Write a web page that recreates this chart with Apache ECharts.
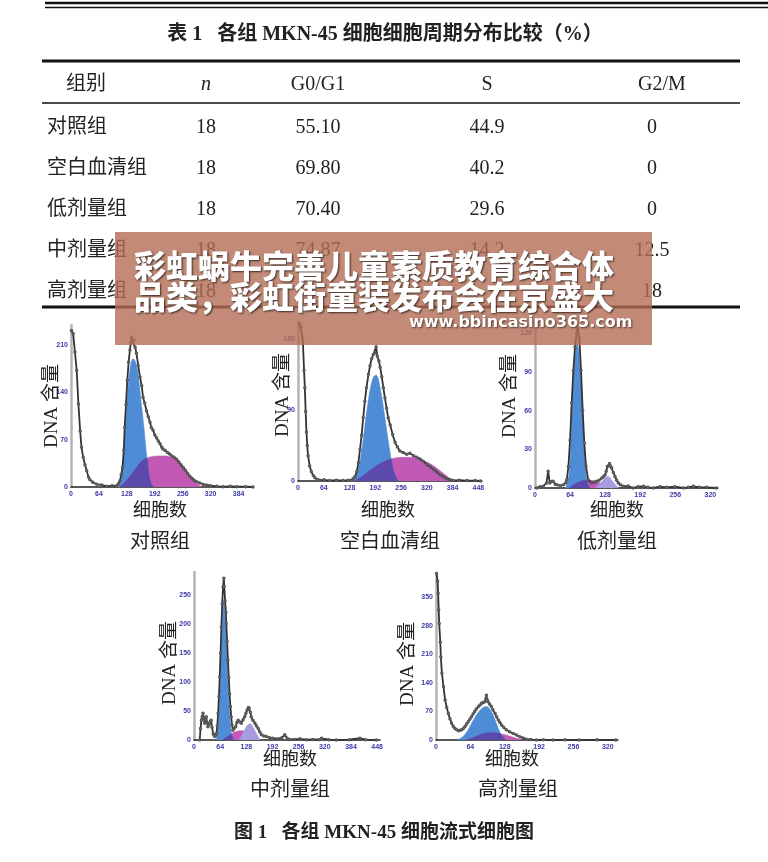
<!DOCTYPE html>
<html>
<head>
<meta charset="utf-8">
<script src="https://cdn.jsdelivr.net/npm/echarts/dist/echarts.min.js"></script>
<style>
  html, body { margin: 0; padding: 0; background: #fff; }
  #main { width: 768px; height: 862px; }
</style>
</head>
<body>
<div id="main"></div>
<script>
// 表1 数据
const headers = ['组别', 'n', 'G0/G1', 'S', 'G2/M'];
const groups = ['对照组', '空白血清组', '低剂量组', '中剂量组', '高剂量组'];
const nVals = ['18', '18', '18', '18', '18'];
const g0g1Vals = ['55.10', '69.80', '70.40', '74.87', ''];
const sVals = ['44.9', '40.2', '29.6', '14.2', ''];
const g2mVals = ['0', '0', '0', '12.5', '18'];

// 图1 各组直方图 (x: 通道, y: 计数)
const ctrlTrace = [[1,232],[5,227],[9,200],[13,173],[17,123],[21,83],[24,59],[28,44],[32,33],[36,24],[40,15],[43,11],[50,7],[59,4],[70,3],[82,1],[94,2],[104,1.5],[108,4],[112,9],[115,18],[118,29],[121,55],[123,88],[126,122],[129,158],[132,185],[135,203],[137,214],[139,222],[141,216],[144,217],[147,207],[150,198],[154,180],[158,163],[162,150],[165,133],[169,124],[173,113],[177,104],[181,96],[184,88],[188,84],[192,77],[196,73],[200,68],[204,64],[208,59],[211,56],[216,54],[221,51],[226,49],[231,46],[236,44],[242,41],[247,37],[252,33],[257,29],[262,25],[267,20],[272,16],[277,13],[282,10],[287,8],[295,6],[302,4],[310,3],[320,2],[335,1],[348,0.5],[365,1],[380,0.5],[400,0.5],[417,0]];
const ctrlG1 = [[105,0],[112,8],[118,30],[124,80],[130,140],[136,178],[142,190],[148,185],[154,165],[160,130],[166,95],[172,55],[178,20],[184,4],[190,0]];
const ctrlS = [[112,0],[125,8],[140,20],[155,33],[170,42],[185,45],[200,46],[215,46],[230,44],[245,38],[260,28],[275,16],[288,6],[298,0]];
const ctrlOver = [[112,0],[125,8],[140,20],[155,33],[170,42],[174,42],[178,20],[184,4],[190,0]];

const blankTrace = [[3,200],[7,195],[12,178],[15,140],[17,118],[19,88],[21,62],[23,45],[25,32],[29,19],[33,12],[38,7],[42,4],[48,2],[54,1],[65,1.5],[79,0.5],[95,1],[112,0.5],[125,1],[133,1],[137,3],[141,5],[146,12],[150,23],[154,40],[158,58],[162,80],[166,101],[170,118],[175,135],[179,146],[183,155],[187,160],[191,162],[194,170],[197,158],[201,152],[204,144],[208,132],[212,118],[216,105],[220,92],[224,80],[229,71],[235,59],[241,49],[247,43],[253,38],[261,36],[270,34],[278,35],[287,32],[295,30],[303,28],[311,25],[320,21],[328,18],[337,15],[345,11],[353,8],[362,5],[370,3],[378,1.5],[386,0.5],[400,1],[420,0.5],[440,0.5],[453,0]];
const blankG1 = [[137,0],[150,15],[160,45],[170,85],[180,118],[188,132],[194,134],[200,128],[210,100],[220,65],[228,38],[236,15],[245,2],[252,0]];
const blankS = [[140,0],[160,6],[180,14],[200,21],[220,26],[240,29],[260,30],[280,30],[300,28],[320,24],[340,18],[360,10],[375,4],[385,0]];
const blankOver = [[140,0],[160,6],[180,14],[200,21],[220,26],[230,28],[236,15],[245,2],[250,0]];

const lowTrace = [[3,0],[9,1],[15,1.3],[21,3.9],[24,12.9],[27,3.9],[30,5],[33,5.2],[37,3],[40,2.6],[46,1.8],[52,2.6],[56,4],[58,6.4],[61,16.7],[64,37],[67,66],[70,91],[73,109],[76,120],[78,125],[81,115],[84,91],[87,60],[90,35],[93,17],[97,6.4],[103,3.9],[108,4.5],[112,5.2],[117,6],[122,7.7],[125,9],[128,10.3],[130,13],[132,16.7],[134,17],[136,19],[138,17],[140,15.5],[143,12],[146,9],[149,6],[152,3.9],[156,2.5],[161,1.3],[170,1.5],[179,0],[188,1],[198,1.3],[206,0.5],[216,0],[228,1],[240,0.5],[255,1],[271,0],[280,0.5],[289,1.3],[300,0.5],[313,0.5],[331,0]];
const lowG1 = [[56,0],[62,10],[66,40],[70,80],[74,105],[77,112],[80,105],[84,80],[88,45],[92,15],[96,3],[100,0]];
const lowS = [[62,0],[72,3],[85,5.5],[100,6],[112,5],[122,3],[130,0]];
const lowOver = [[62,0],[72,3],[85,5.5],[94,5.8],[96,3],[100,0]];
const lowG2 = [[110,0],[120,4],[128,8],[134,9],[140,6],[148,2],[152,0]];

const midTrace = [[14,0],[16,20],[18,34],[20,40],[22,46],[24,38],[26,29],[28,35],[30,40],[32,30],[34,23],[36,26],[38,29],[40,32],[42,34],[44,22],[47,11],[49,8],[51,6],[53,8],[55,11],[57,25],[59,46],[61,75],[63,109],[65,150],[67,195],[69,235],[71,264],[73,279],[74,265],[76,241],[78,220],[79,201],[81,170],[83,138],[85,108],[87,80],[89,58],[91,40],[93,26],[95,17],[98,20],[102,23],[105,30],[108,34],[112,31],[116,29],[120,35],[124,40],[127,46],[130,52],[133,56],[135,55],[138,48],[140,40],[144,34],[149,29],[153,24],[157,20],[161,14],[165,9],[171,7],[177,6],[185,4],[193,3],[205,2],[215,4],[222,9],[228,3],[234,1],[245,1],[259,2],[275,0.5],[291,1],[305,0.5],[312,3],[330,0.5],[348,0],[380,0.5],[406,3],[420,0.5],[446,0]];
const midG1 = [[55,0],[60,30],[64,90],[68,170],[71,225],[73,240],[76,210],[80,150],[84,85],[88,35],[92,8],[96,0]];
const midS = [[70,0],[85,8],[100,14],[115,16],[130,14],[145,8],[155,0]];
const midOver = [[70,0],[80,5],[88,9],[91,10],[92,8],[96,0]];
const midG2 = [[110,0],[120,12],[130,25],[138,28],[146,20],[155,8],[162,0]];

const highTrace = [[1,409],[3,390],[4,360],[5,320],[6,286],[8,240],[9,204],[11,164],[14,131],[17,98],[20,80],[23,65],[26,52],[29,41],[32,34],[35,29],[38,26],[42,23],[45,24],[48,25],[51,28],[54,33],[57,39],[60,45],[63,51],[66,57],[69,64],[72,70],[75,76],[79,82],[82,86],[85,90],[88,92],[91,94],[93,102],[94,110],[95,100],[97,94],[100,88],[103,82],[106,74],[110,65],[113,57],[116,49],[119,43],[122,37],[126,31],[131,25],[137,20],[144,16],[150,12],[156,8],[162,5],[168,2],[177,1],[187,0],[200,0.5],[218,0],[240,0.5],[267,0],[300,0.5],[335,0]];
const highG1 = [[40,0],[50,8],[60,25],[70,50],[80,70],[88,80],[94,82],[100,76],[106,62],[112,42],[118,22],[124,8],[130,0]];
const highS = [[55,0],[70,6],[85,14],[100,18],[115,17],[130,12],[145,6],[160,0]];
const highOver = [[55,0],[70,6],[85,14],[100,18],[115,17],[120,15],[124,8],[130,0]];

// 每个小图: 网格位置与坐标范围
const panels = [
  { name: '对照组', trace: ctrlTrace, g1: ctrlG1, s: ctrlS, over: ctrlOver, g2: null,
    grid: { left: 71, top: 325, width: 182, height: 162 }, xMax: 417, yMax: 240, yStep: 70 },
  { name: '空白血清组', trace: blankTrace, g1: blankG1, s: blankS, over: blankOver, g2: null,
    grid: { left: 298, top: 323, width: 184, height: 158 }, xMax: 457, yMax: 200, yStep: 90 },
  { name: '低剂量组', trace: lowTrace, g1: lowG1, s: lowS, over: lowOver, g2: lowG2,
    grid: { left: 535, top: 328, width: 183, height: 160 }, xMax: 334, yMax: 124, yStep: 30 },
  { name: '中剂量组', trace: midTrace, g1: midG1, s: midS, over: midOver, g2: midG2,
    grid: { left: 194, top: 572, width: 186, height: 168 }, xMax: 455, yMax: 290, yStep: 50 },
  { name: '高剂量组', trace: highTrace, g1: highG1, s: highS, over: highOver, g2: null,
    grid: { left: 436, top: 573, width: 182, height: 167 }, xMax: 339, yMax: 410, yStep: 70 }
];

const serif = "'Liberation Serif','DejaVu Serif','Noto Sans CJK SC',serif";
const cjk = "'Noto Sans CJK SC',sans-serif";
const inkColor = '#222';

const grids = [], xAxes = [], yAxes = [], series = [];
const tickLabel = { fontSize: 7, color: '#3b3ba6', fontWeight: 'bold', showMaxLabel: false };

panels.forEach((p, i) => {
  grids.push(p.grid);
  xAxes.push({
    type: 'value', gridIndex: i, min: 0, max: p.xMax, interval: 64,
    axisLine: { lineStyle: { color: '#222', width: 1.5 } },
    axisTick: { show: false }, splitLine: { show: false },
    axisLabel: Object.assign({ margin: 4 }, tickLabel)
  });
  yAxes.push({
    type: 'value', gridIndex: i, min: 0, max: p.yMax, interval: p.yStep,
    axisLine: { show: true, lineStyle: { color: '#b4b4b4', width: 2.5 } },
    axisTick: { show: false }, splitLine: { show: false },
    axisLabel: Object.assign({ margin: 3 }, tickLabel)
  });
  const area = (data, color, z) => ({
    type: 'line', xAxisIndex: i, yAxisIndex: i, data, smooth: 0.3, symbol: 'none',
    lineStyle: { width: 0.6, color }, areaStyle: { color, opacity: 1 }, z, silent: true
  });
  series.push(area(p.s, '#c25ab5', 2));
  series.push(area(p.g1, '#4e8cd6', 3));
  series.push(area(p.over, '#5b4aab', 4));
  if (p.g2) series.push(area(p.g2, '#a99be0', 5));
  series.push({
    type: 'line', xAxisIndex: i, yAxisIndex: i, data: p.trace, smooth: false,
    symbol: 'emptyCircle', symbolSize: 1.5, showAllSymbol: true,
    itemStyle: { color: '#555' },
    lineStyle: { width: 1.8, color: '#333' }, z: 6, silent: true
  });
});

// 表格与文字
const graphic = [];
const txt = (x, y, text, size, extra) => graphic.push(Object.assign({
  type: 'text', x, y, z: 10,
  style: Object.assign({ text, fontSize: size, fontFamily: serif, fill: inkColor, align: 'center', verticalAlign: 'middle' }, extra || {})
}, extra && extra.rotation ? { rotation: extra.rotation } : {}));
const rule = (x1, x2, y, w) => graphic.push({
  type: 'line', z: 10, shape: { x1, y1: y, x2, y2: y }, style: { stroke: '#111', lineWidth: w }
});

rule(45, 768, 3, 2.5);
rule(45, 768, 7.5, 1.5);
txt(385, 35, '表 1   各组 MKN-45 细胞细胞周期分布比较（%）', 20, { fontWeight: 'bold' });
rule(42, 740, 61, 3);
const colX = [47, 206, 318, 487, 662];
headers.forEach((h, c) => {
  txt(c === 0 ? 66 : colX[c], 85, h, 20, c === 1 ? { fontStyle: 'italic' } : (c === 0 ? { align: 'left' } : {}));
});
rule(42, 740, 103, 1.5);
const rowY = [128, 169, 210, 251, 292];
groups.forEach((g, r) => {
  const y = rowY[r];
  txt(colX[0], y, g, 20, { align: 'left' });
  txt(colX[1], y, nVals[r], 20);
  txt(colX[2], y, g0g1Vals[r], 20);
  txt(colX[3], y, sVals[r], 20);
  txt(652, y, g2mVals[r], 20);
});
rule(42, 740, 307, 3);

// 各小图标注
const dnaPos = [[52, 406], [283, 395], [510, 396], [170, 663], [408, 664]];
const cellPos = [[160, 511], [388, 511], [617, 511], [290, 760], [512, 760]];
const namePos = [[160, 543], [390, 543], [617, 543], [290, 791], [518, 791]];
panels.forEach((p, i) => {
  txt(dnaPos[i][0], dnaPos[i][1], 'DNA 含量', 19, { rotation: Math.PI / 2 });
  txt(cellPos[i][0], cellPos[i][1], '细胞数', 18);
  txt(namePos[i][0], namePos[i][1], p.name, 20);
});
txt(384, 833, '图 1   各组 MKN-45 细胞流式细胞图', 19, { fontWeight: 'bold' });

// 水印
graphic.push({
  type: 'rect', z: 100, shape: { x: 115, y: 232, width: 537, height: 113 },
  style: { fill: 'rgba(180,110,85,0.8)' }
});
const wmStyle = { fontFamily: cjk, fontWeight: 900, fill: '#fff', align: 'left', verticalAlign: 'middle',
  textShadowColor: 'rgba(0,0,0,0.7)', textShadowBlur: 2, textShadowOffsetX: 1, textShadowOffsetY: 1 };
graphic.push({ type: 'text', z: 101, x: 134, y: 266, style: Object.assign({ text: '彩虹蜗牛完善儿童素质教育综合体', fontSize: 32 }, wmStyle) });
graphic.push({ type: 'text', z: 101, x: 134, y: 297, style: Object.assign({ text: '品类，彩虹街童装发布会在京盛大', fontSize: 32 }, wmStyle) });
graphic.push({ type: 'text', z: 101, x: 409, y: 323, style: Object.assign({ text: 'www.bbincasino365.com', fontSize: 16, fontFamily: "'DejaVu Sans',sans-serif", fontWeight: 'bold' }, { fill: '#fff', align: 'left', verticalAlign: 'middle', textShadowColor: 'rgba(0,0,0,0.6)', textShadowBlur: 2, textShadowOffsetX: 1, textShadowOffsetY: 1 }) });

const chart = echarts.init(document.getElementById('main'));
chart.setOption({
  backgroundColor: '#fff',
  animation: false,
  grid: grids,
  xAxis: xAxes,
  yAxis: yAxes,
  series,
  graphic
});
</script>
</body>
</html>
